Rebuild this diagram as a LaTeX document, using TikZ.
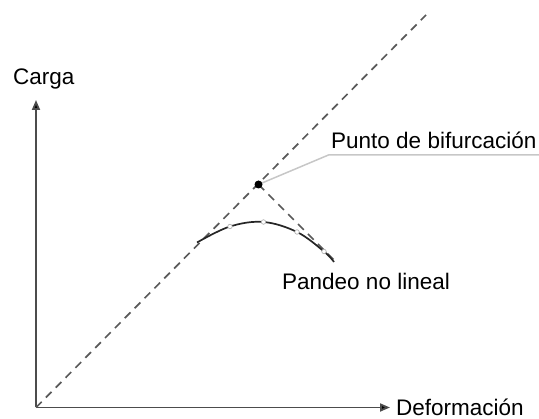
\documentclass[tikz,border=0pt]{standalone}
\usepackage{fontspec}
\setmainfont{Liberation Sans}
\usetikzlibrary{arrows.meta}
\begin{document}
\begin{tikzpicture}[x=1pt,y=1pt,
  axis/.style={draw=black!70, line width=1.8pt, -{Triangle[length=10pt,width=8pt,fill=black]}},
  dashline/.style={draw=black!65, line width=1.7pt, dash pattern=on 8pt off 6pt},
  leader/.style={draw=black!22, line width=1.5pt},
  curveline/.style={draw=black!85, line width=1.7pt},
  marker/.style={circle, draw=black!30, fill=white, line width=0.7pt, inner sep=0pt, minimum size=4.5pt},
  label/.style={inner sep=0pt, anchor=base west, font=\fontsize{22.5}{26}\selectfont, text=black}]
\useasboundingbox (0,0) rectangle (539,419);
% key points
\coordinate (O) at (36,11.5);
\coordinate (Ytip) at (36,319);
\coordinate (Xtip) at (390,11.5);
\coordinate (Dtop) at (426,404);
\coordinate (B) at (258.5,234.5);
\coordinate (Dend) at (334,159);
\coordinate (Lknee) at (328.5,264);
\coordinate (Lend) at (539,264);
% axes
\draw[axis] (O) -- (Ytip);
\draw[axis] (O) -- (Xtip);
% dashed lines
\draw[dashline] (O) -- (Dtop);
\draw[dashline] (B) -- (Dend);
% leader
\draw[leader] (B) -- (Lknee) -- (Lend);
% nonlinear buckling curve
\draw[curveline] plot[smooth, tension=0.6] coordinates {(197,176.5) (230,192.5) (263.5,197) (297,187) (324,167.5) (334,157)};
\node[marker] (m1) at (230,192.5) {};
\node[marker] (m2) at (263.5,197) {};
\node[marker] (m3) at (297,187) {};
\node[marker] (m4) at (324,167.5) {};
% bifurcation point
\node[circle, fill=black, inner sep=0pt, minimum size=8pt] (bp) at (B) {};
% labels
\node[label] (carga) at (13,334) {Carga};
\node[label] (def) at (396,3.5) {Deformación};
\node[label] (punto) at (331,270) {Punto de bifurcación};
\node[label] (pandeo) at (282,129) {Pandeo no lineal};
\end{tikzpicture}
\end{document}
